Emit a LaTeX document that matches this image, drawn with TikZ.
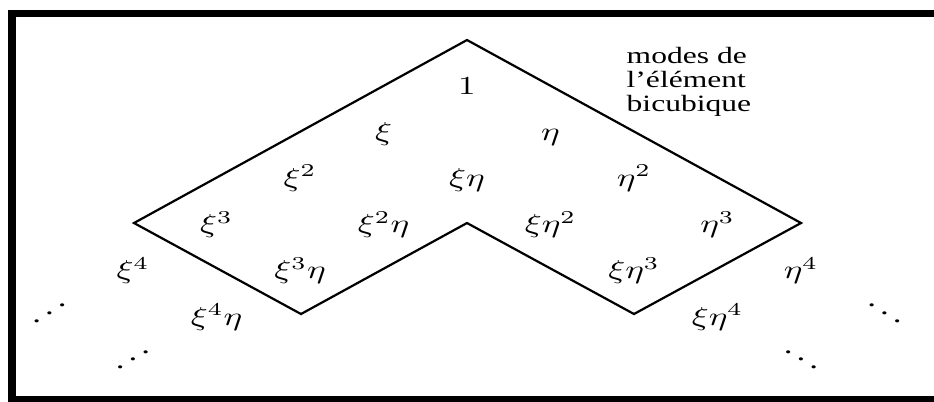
\documentclass[tikz,border=0pt]{standalone}
\usepackage{fontspec}
\setmainfont{Liberation Serif}
\usepackage{graphicx}
\newcommand{\updots}{\reflectbox{$\ddots$}}

\begin{document}
\begin{tikzpicture}[x=0.385pt, y=-0.385pt]
\useasboundingbox (0,0) rectangle (934,401);
\clip (0,0) rectangle (934,401);

% -------------------------
% Frame
% -------------------------
\draw[line width=2.9pt] (12,13.4) rectangle (950,400);

% -------------------------
% Bicubic region
% -------------------------
\coordinate (top)    at (467,40);
\coordinate (left)   at (134,223);
\coordinate (lbot)   at (301,314);
\coordinate (notch)  at (467,223);
\coordinate (rbot)   at (634,314);
\coordinate (right)  at (801,223);

\draw[line width=0.85pt, line join=miter]
  (top) -- (right) -- (rbot) -- (notch) -- (lbot) -- (left) -- cycle;

% -------------------------
% Monomials
% -------------------------
\begin{scope}[
  every node/.style={anchor=base, inner sep=0pt, xscale=1.35, transform shape,
                     font=\fontsize{10}{12}\selectfont}
]

\node (one)    at (467,94)      {$1$};

\node (xi)     at (383.5,140.2) {$\xi$};
\node (eta)    at (550.5,140.2) {$\eta$};

\node (xi2)    at (300,186.4)   {$\xi^2$};
\node (xieta)  at (467,186.4)   {$\xi\eta$};
\node (eta2)   at (634,186.4)   {$\eta^2$};

\node (xi3)    at (216.5,232.6) {$\xi^3$};
\node (xi2eta) at (383.5,232.6) {$\xi^2\eta$};
\node (xieta2) at (550.5,232.6) {$\xi\eta^2$};
\node (eta3)   at (717.5,232.6) {$\eta^3$};

\node (xi4)    at (133,278.8)   {$\xi^4$};
\node (xi3eta) at (300,278.8)   {$\xi^3\eta$};
\node (xieta3) at (634,278.8)   {$\xi\eta^3$};
\node (eta4)   at (801,278.8)   {$\eta^4$};

\node (dotsL)  at (49.5,325)    {\updots};
\node (xi4eta) at (216.5,325)   {$\xi^4\eta$};
\node (xieta4) at (717.5,325)   {$\xi\eta^4$};
\node (dotsR)  at (884.5,325)   {$\ddots$};

\node (dotsLL) at (133,371.2)   {\updots};
\node (dotsRR) at (801,371.2)   {$\ddots$};

% Caption
\node[anchor=north west, align=left, font=\fontsize{9}{9.25}\selectfont]
  (caption) at (626,47) {modes de\\l’élément\\bicubique};

\end{scope}
\end{tikzpicture}
\end{document}
